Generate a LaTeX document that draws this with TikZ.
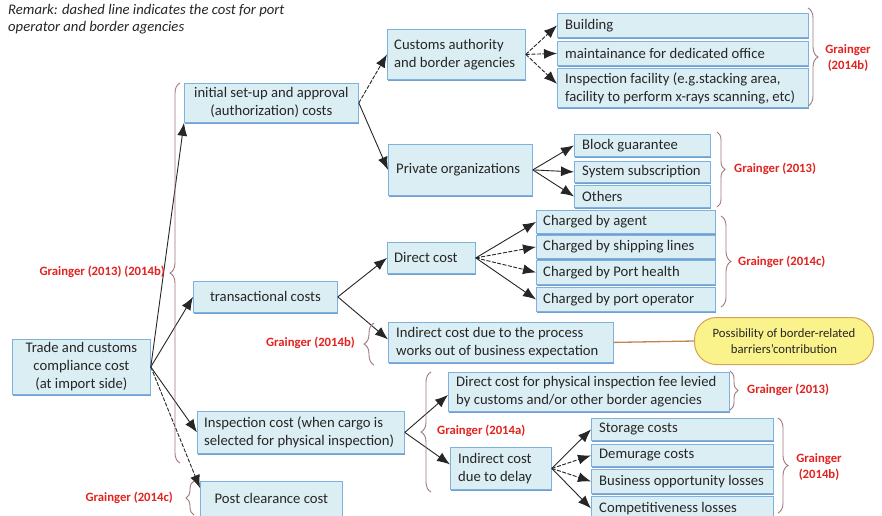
\documentclass[tikz,border=0pt]{standalone}
\usepackage{fontspec}
\setmainfont{Carlito}
\usetikzlibrary{arrows.meta,decorations.pathreplacing,shadows}
\definecolor{boxfill}{HTML}{DBEEF4}
\definecolor{boxline}{HTML}{7DB1E0}
\definecolor{boxshadow}{HTML}{5B8FC7}
\definecolor{bracecol}{HTML}{A07878}
\definecolor{refred}{HTML}{E2231F}
\definecolor{possfill}{HTML}{FAF38C}
\definecolor{possline}{HTML}{D8A050}
\definecolor{linkcol}{HTML}{C08650}
\definecolor{inkcol}{HTML}{262626}
\newcommand{\lbox}[7]{\node[box,minimum width=#4pt,minimum height=#5pt,anchor=north west] (#1) at (#2,#3) {};
  \node[txt,anchor=west,align=left] at ([xshift=#6pt]#1.west) {#7};}
\newcommand{\cbox}[6]{\node[box,minimum width=#4pt,minimum height=#5pt,anchor=north west] (#1) at (#2,#3) {};
  \node[txt,align=center] at (#1.center) {#6};}
\begin{document}
\begin{tikzpicture}[x=1pt,y=-1pt,
  box/.style={draw=boxline,fill=boxfill,line width=0.8pt,inner sep=0pt,
    drop shadow={shadow xshift=0.5pt,shadow yshift=-1.3pt,fill=boxshadow,opacity=0.85}},
  txt/.style={inner sep=0pt,text=inkcol,font=\fontsize{14.67}{18}\selectfont},
  ref/.style={inner sep=0pt,text=refred,font=\bfseries\fontsize{12.7}{15.5}\selectfont},
  arr/.style={draw=inkcol,line width=0.9pt,-{Latex[length=13pt,width=10pt]}},
  dsh/.style={arr,dash pattern=on 4pt off 1.5pt},
  brc/.style={draw=bracecol,line width=0.9pt,decorate,decoration={brace,amplitude=#1}},
  brc/.default=10pt]
\fill[white] (0,0) rectangle (882,515);
\useasboundingbox (0,0) rectangle (882,515);

\node[anchor=north west,inner sep=0pt,align=left,text=inkcol,font=\itshape\fontsize{14.67}{17}\selectfont] (remark) at (8,4)
  {Remark: dashed line indicates the cost for port\\operator and border agencies};

% boxes
\cbox{trade}{12}{339}{138}{55}{Trade and customs\\compliance cost\\(at import side)}
\cbox{init}{184}{83}{174}{39}{initial set-up and approval\\(authorization) costs}
\lbox{cust}{387}{29}{138}{50}{7}{Customs authority\\and border agencies}
\lbox{bld}{557}{13}{251}{24}{8}{Building}
\lbox{mnt}{557}{41}{251}{24}{8}{maintainance for dedicated office}
\lbox{insp}{557}{68}{251}{39}{8}{Inspection facility (e.g.stacking area,\\facility to perform x-rays scanning, etc)}
\lbox{priv}{388}{144}{144}{51}{8}{Private organizations}
\lbox{blk}{574}{134}{136}{22}{8}{Block guarantee}
\lbox{sys}{574}{161}{136}{21}{8}{System subscription}
\lbox{oth}{574}{185}{136}{22}{8}{Others}
\lbox{dir}{387}{242}{88}{31}{7}{Direct cost}
\lbox{ag}{536}{210}{179}{23}{7}{Charged by agent}
\lbox{ship}{536}{235}{179}{23}{7}{Charged by shipping lines}
\lbox{health}{536}{260}{179}{24}{7}{Charged by Port health}
\lbox{oper}{536}{287}{179}{24}{7}{Charged by port operator}
\cbox{trans}{193}{281}{144}{31}{transactional costs}
\lbox{indir}{388}{322}{225}{40}{8}{Indirect cost due to the process\\works out of business expectation}
\lbox{phys}{448}{372}{281}{39}{8}{Direct cost for physical inspection fee levied\\by customs and/or other border agencies}
\lbox{inspc}{197}{411}{207}{42}{7}{Inspection cost (when cargo is\\selected for physical inspection)}
\lbox{delay}{450}{447}{101}{42}{8}{Indirect cost\\due to delay}
\lbox{stor}{591}{418}{182}{22}{8}{Storage costs}
\lbox{dem}{591}{444}{182}{22}{8}{Demurage costs}
\lbox{bus}{591}{469}{182}{24}{8}{Business opportunity losses}
\lbox{comp}{591}{496}{182}{24}{8}{Competitiveness losses}
\cbox{post}{200}{481}{142}{35}{Post clearance cost}

\node[draw=possline,fill=possfill,line width=1pt,rounded corners=22pt,minimum width=179pt,minimum height=47pt,
  anchor=north west,inner sep=0pt] (poss) at (694,317) {};
\node[inner sep=0pt,align=center,text=inkcol,font=\fontsize{12.7}{15.5}\selectfont] at (poss.center)
  {Possibility of border-related\\barriers’contribution};

% connectors
\draw[arr] (trade.east) -- (init.south west);
\draw[arr] (trade.east) -- (trans.west);
\draw[arr] (trade.east) -- (inspc.west);
\draw[dsh] (trade.east) -- ([yshift=-7pt]post.north west);
\draw[dsh] (init.east) -- (cust.west);
\draw[arr] (init.east) -- (priv.west);
\draw[dsh] (cust.east) -- (bld.west);
\draw[dsh] (cust.east) -- (mnt.west);
\draw[dsh] (cust.east) -- ([yshift=4pt]insp.west);
\draw[arr] (priv.east) -- (blk.west);
\draw[arr] (priv.east) -- (sys.west);
\draw[arr] (priv.east) -- (oth.west);
\draw[arr] (trans.east) -- (dir.west);
\draw[arr] (trans.east) -- ([yshift=3pt]indir.west);
\draw[arr] (dir.east) -- (ag.west);
\draw[dsh] (dir.east) -- (ship.west);
\draw[dsh] (dir.east) -- (health.west);
\draw[arr] (dir.east) -- (oper.west);
\draw[arr] (inspc.east) -- ([yshift=-3pt]phys.west);
\draw[arr] (inspc.east) -- ([yshift=4pt]delay.west);
\draw[arr] (delay.east) -- (stor.west);
\draw[dsh] (delay.east) -- (dem.west);
\draw[dsh] (delay.east) -- (bus.west);
\draw[arr] (delay.east) -- (comp.west);
\draw[draw=linkcol,line width=1.3pt] (indir.east) -- (poss.west);

% braces
\draw[brc] (808,8) -- (808,106);
\draw[brc=8pt] (717,132) -- (717,207);
\draw[brc] (721,216) -- (721,307);
\draw[brc] (374,365) -- (374,323);
\draw[brc=8pt] (730,371) -- (730,410);
\draw[brc] (431,492) -- (431,372);
\draw[brc] (778,418) -- (778,513);
\draw[brc] (180,463) -- (180,83);
\draw[brc=8pt] (194,515) -- (194,481);

% references
\node[ref,align=center] (r1) at (848,58) {Grainger\\(2014b)};
\node[ref,anchor=west] (r2) at (734,169) {Grainger (2013)};
\node[ref,anchor=west] (r3) at (738,262) {Grainger (2014c)};
\node[ref,anchor=east] (r4) at (355,343) {Grainger (2014b)};
\node[ref,anchor=west] (r5) at (747,390) {Grainger (2013)};
\node[ref,anchor=west] (r6) at (437,431) {Grainger (2014a)};
\node[ref,align=center] (r7) at (819,467) {Grainger\\(2014b)};
\node[ref,anchor=east] (r8) at (165,272) {Grainger (2013) (2014b)};
\node[ref,anchor=east] (r9) at (173,498) {Grainger (2014c)};
\end{tikzpicture}
\end{document}
